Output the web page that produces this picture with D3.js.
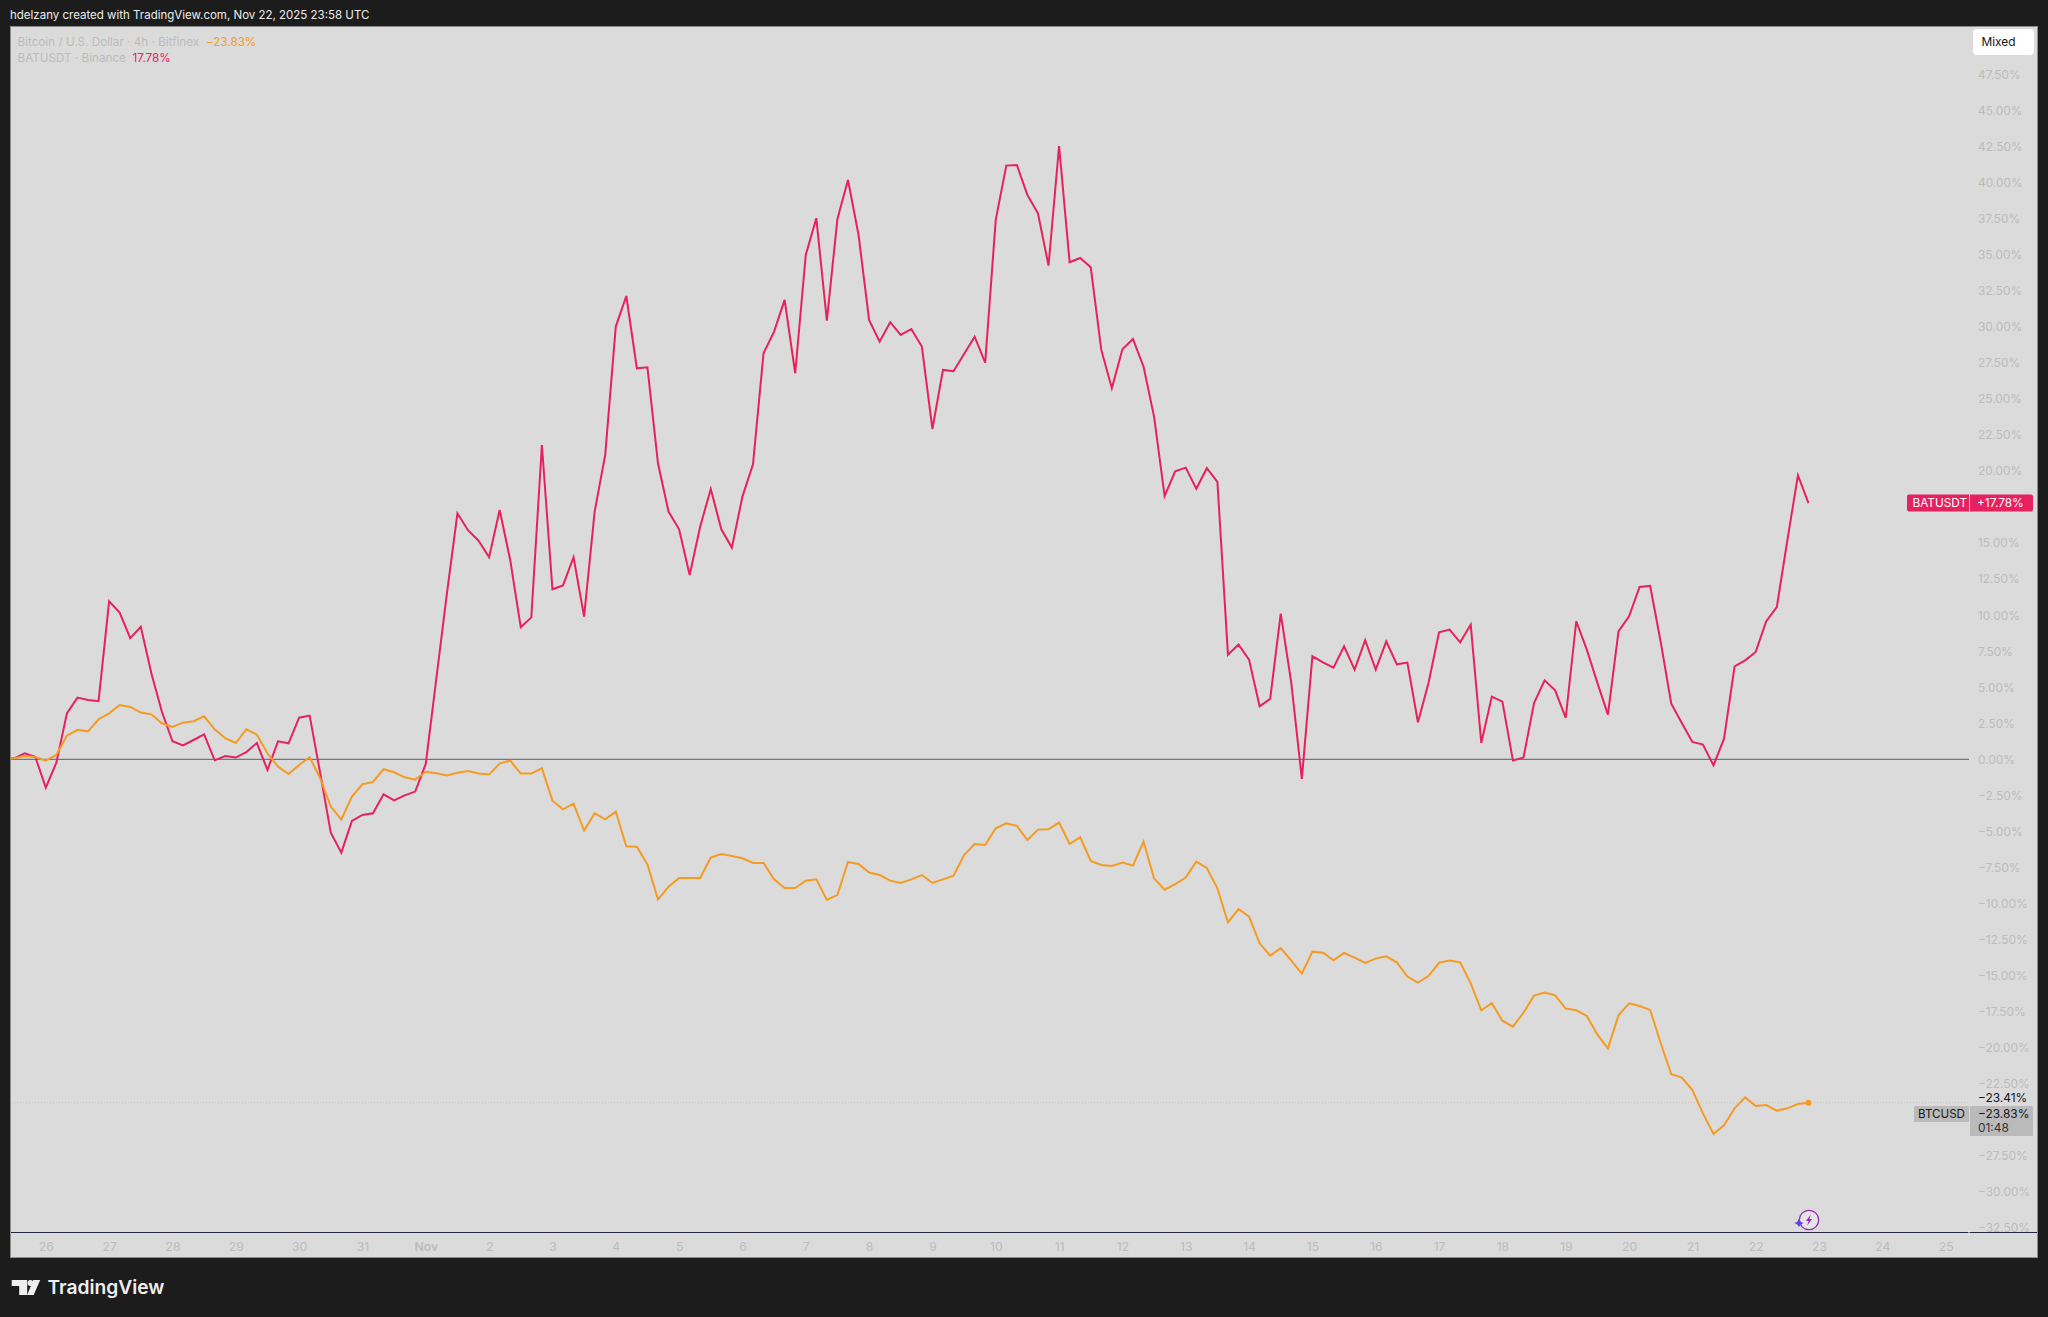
<!DOCTYPE html>
<html><head><meta charset="utf-8">
<style>html,body{margin:0;padding:0;background:#1c1c1c}svg{display:block}text{font-family:Inter,"Liberation Sans",sans-serif}</style>
<script src="https://cdn.jsdelivr.net/npm/d3@7/dist/d3.min.js"></script></head><body>
<script>
// first sample sits 4 bars (4h each) before 26 Oct 00:00 UTC
const firstBar = Date.UTC(2025, 9, 25, 8);
const batusdt = [0,0.07,0.42,0.18,-1.97,-0.23,3.19,4.28,4.12,4.03,10.96,10.18,8.4,9.2,5.97,3.3,1.25,0.97,1.34,1.73,-0.07,0.23,0.12,0.5,1.13,-0.74,1.25,1.11,2.89,3.03,-0.97,-5.09,-6.48,-4.28,-3.86,-3.75,-2.43,-2.85,-2.5,-2.24,-0.32,5.6,11.5,17.07,15.9,15.17,14.02,17.3,13.83,9.16,9.85,21.81,11.8,12.07,14.02,9.9,17.19,21.12,30.03,32.15,27.13,27.2,20.54,17.19,15.96,12.79,16.15,18.76,15.96,14.69,18.23,20.47,28.17,29.68,31.88,26.79,35.0,37.55,30.44,37.5,40.2,36.4,30.49,28.98,30.33,29.45,29.86,28.64,22.92,27.02,26.93,28.13,29.33,27.53,37.43,41.2,41.24,39.16,37.89,34.26,42.56,34.49,34.79,34.14,28.41,25.75,28.45,29.17,27.25,23.78,18.27,19.99,20.24,18.78,20.2,19.25,7.26,7.96,6.92,3.68,4.19,10.11,5.3,-1.36,7.15,6.73,6.36,7.84,6.22,8.26,6.22,8.19,6.59,6.71,2.57,5.3,8.81,9.0,8.12,9.35,1.13,4.35,4.0,-0.09,0.12,3.91,5.48,4.79,2.87,9.58,7.61,5.3,3.1,8.88,9.92,11.96,12.03,8.14,3.86,2.52,1.2,1.02,-0.42,1.43,6.45,6.87,7.45,9.58,10.57,15.2,19.71,17.78];
const btcusd = [0,0.07,0.23,0.16,-0.09,0.3,1.64,2.04,1.94,2.78,3.19,3.77,3.63,3.24,3.12,2.5,2.24,2.54,2.64,2.98,2.08,1.46,1.13,2.08,1.71,0.42,-0.51,-1.02,-0.39,0.14,-1.32,-3.28,-4.19,-2.59,-1.73,-1.57,-0.69,-0.9,-1.25,-1.41,-0.86,-0.97,-1.13,-0.93,-0.81,-0.99,-1.06,-0.3,-0.09,-0.99,-0.99,-0.62,-2.87,-3.47,-3.08,-4.95,-3.75,-4.16,-3.63,-6.04,-6.06,-7.29,-9.72,-8.84,-8.24,-8.24,-8.24,-6.82,-6.57,-6.71,-6.87,-7.19,-7.19,-8.33,-8.93,-8.93,-8.42,-8.33,-9.76,-9.41,-7.12,-7.26,-7.86,-8.03,-8.42,-8.58,-8.33,-8.03,-8.58,-8.33,-8.07,-6.64,-5.88,-5.94,-4.79,-4.44,-4.62,-5.6,-4.88,-4.86,-4.39,-5.88,-5.41,-7.05,-7.33,-7.4,-7.17,-7.38,-5.71,-8.26,-9.05,-8.67,-8.21,-7.1,-7.54,-8.95,-11.31,-10.39,-10.92,-12.77,-13.63,-13.1,-13.97,-14.87,-13.35,-13.42,-13.95,-13.44,-13.76,-14.13,-13.83,-13.67,-14.09,-15.08,-15.5,-15.04,-14.11,-13.97,-14.09,-15.55,-17.42,-16.93,-18.14,-18.55,-17.58,-16.4,-16.19,-16.38,-17.3,-17.42,-17.81,-19.11,-20.06,-17.76,-16.93,-17.12,-17.39,-19.7,-21.86,-22.09,-22.95,-24.57,-26.0,-25.4,-24.22,-23.46,-24.06,-23.99,-24.38,-24.22,-23.92,-23.83];
const dayLabels = ["26","27","28","29","30","31","Nov","2","3","4","5","6","7","8","9","10","11","12","13","14","15","16","17","18","19","20","21","22","23","24","25"];
const percentTicks = [47.5,45,42.5,40,37.5,35,32.5,30,27.5,25,22.5,20,15,12.5,10,7.5,5,2.5,0,-2.5,-5,-7.5,-10,-12.5,-15,-17.5,-20,-22.5,-27.5,-30,-32.5];
const lastBtc = -23.83, lastBat = 17.78, openMark = -23.41;

const W=2048,H=1317, pane={l:10,t:26,r:2038,b:1258}, axisX=1969, baseY=1232;
const pink="#e6215f", orange="#f59b22", tickGrey="#bcbcbc";
const day0=Date.UTC(2025,9,26), dayMs=864e5;
const barTime=i=>new Date(firstBar+i*4*36e5);
const x=d3.scaleUtc().domain([new Date(day0),new Date(day0+30*dayMs)]).range([45.8,1945.7]);
const y=d3.scaleLinear().domain([0,47.5]).range([759.3,74.8]);
const pct=v=>(v<0?"\u2212":"")+Math.abs(v).toFixed(2)+"%";

const svg=d3.select("body").append("svg").attr("width",W).attr("height",H).attr("viewBox",`0 0 ${W} ${H}`);
svg.append("rect").attr("width",W).attr("height",H).attr("fill","#1c1c1c");
svg.append("rect").attr("x",pane.l+.5).attr("y",pane.t+.5).attr("width",pane.r-pane.l-1).attr("height",pane.b-pane.t-1).attr("fill","#dbdbdb").attr("stroke","#8c8c8c");
svg.append("defs").append("clipPath").attr("id","c").append("rect").attr("x",pane.l+1).attr("y",pane.t).attr("width",axisX-pane.l).attr("height",baseY-pane.t);

svg.append("text").attr("x",10).attr("y",19.3).attr("fill","#ececec").attr("font-size",11.5).text("hdelzany created with TradingView.com, Nov 22, 2025 23:58 UTC");

// axes
const xAxis=d3.axisBottom(x).tickValues(dayLabels.map((d,i)=>new Date(day0+i*dayMs))).tickFormat((d,i)=>dayLabels[i]).tickSize(0).tickPadding(0);
const gx=svg.append("g").attr("transform","translate(0,1250.5)").call(xAxis);
gx.select(".domain").remove();
gx.selectAll("text").attr("y",0).attr("dy",0).attr("fill",tickGrey).attr("font-size",12.2).attr("font-weight",(d,i)=>dayLabels[i]==="Nov"?600:400).style("font-family","Inter");

const yAxis=d3.axisRight(y).tickValues(percentTicks).tickFormat(pct).tickSize(0).tickPadding(0);
const gy=svg.append("g").attr("transform","translate(1978,0)").call(yAxis);
gy.select(".domain").remove();
gy.selectAll("text").attr("x",0).attr("fill",tickGrey).attr("font-size",11.9).style("font-family","Inter");

// reference lines
svg.append("line").attr("x1",pane.l+1).attr("x2",axisX).attr("y1",y(0)).attr("y2",y(0)).attr("stroke","#72748a").attr("stroke-width",1.3);
svg.append("line").attr("x1",pane.l+1).attr("x2",axisX).attr("y1",y(lastBtc)).attr("y2",y(lastBtc)).attr("stroke","#cdc6b8").attr("stroke-dasharray","1 2");
svg.append("line").attr("x1",pane.l+1).attr("x2",pane.r-1).attr("y1",baseY+.5).attr("y2",baseY+.5).attr("stroke","#23273f").attr("stroke-width",1.2);
svg.append("line").attr("x1",axisX).attr("x2",axisX).attr("y1",baseY-1).attr("y2",baseY+3).attr("stroke","#f2f2f2");

// series
const line=d3.line().x((d,i)=>x(barTime(i))).y(d=>y(d));
const plot=svg.append("g").attr("clip-path","url(#c)");
plot.append("path").datum(batusdt).attr("d",line).attr("fill","none").attr("stroke",pink).attr("stroke-width",2).attr("stroke-linejoin","miter");
plot.append("path").datum(btcusd).attr("d",line).attr("fill","none").attr("stroke",orange).attr("stroke-width",2);
plot.append("circle").attr("cx",x(barTime(btcusd.length-1))).attr("cy",y(lastBtc)).attr("r",3).attr("fill",orange);

// legend
const leg=(yy,parts)=>{const t=svg.append("text").attr("x",17.5).attr("y",yy).attr("font-size",11.7);parts.forEach(([s,c,dx])=>t.append("tspan").attr("fill",c).attr("dx",dx||0).text(s));};
leg(45.5,[["Bitcoin / U.S. Dollar · 4h · Bitfinex",tickGrey],[pct(lastBtc),orange,7]]);
leg(62,[["BATUSDT · Binance",tickGrey],[lastBat.toFixed(2)+"%",pink,7]]);

// Mixed button
svg.append("rect").attr("x",1973).attr("y",29).attr("width",61).attr("height",26).attr("rx",4).attr("fill","#fff");
svg.append("text").attr("x",1981.5).attr("y",46.3).attr("font-size",11.9).attr("fill","#131722").text("Mixed");

// last-value labels
const by=y(lastBat);
svg.append("rect").attr("x",1907).attr("y",by-8.7).attr("width",126).attr("height",17).attr("rx",2).attr("fill",pink);
svg.append("line").attr("x1",1969.5).attr("x2",1969.5).attr("y1",by-8.7).attr("y2",by+8.3).attr("stroke","#f6c3d4");
svg.append("text").attr("x",1912.5).attr("y",by+4.3).attr("font-size",11.8).attr("fill","#fff").text("BATUSDT");
svg.append("text").attr("x",1977).attr("y",by+4.3).attr("font-size",11.9).attr("fill","#fff").text("+"+lastBat.toFixed(2)+"%");
svg.append("text").attr("x",1978).attr("y",y(openMark)+5.3).attr("font-size",11.9).attr("fill","#131722").text(pct(openMark));
svg.append("rect").attr("x",1914).attr("y",1106).attr("width",55).attr("height",16).attr("rx",1).attr("fill","#bababa");
svg.append("rect").attr("x",1970).attr("y",1106).attr("width",63).attr("height",30).attr("rx",1).attr("fill","#bababa");
svg.append("text").attr("x",1918).attr("y",1118.2).attr("font-size",11.6).attr("fill","#131722").text("BTCUSD");
svg.append("text").attr("x",1978).attr("y",1118.2).attr("font-size",11.9).attr("fill","#131722").text(pct(lastBtc));
svg.append("text").attr("x",1978).attr("y",1132).attr("font-size",11.9).attr("fill","#333").text("01:48");

// sparkle badge
const b=svg.append("g").attr("transform","translate(1809,1220)");
b.append("circle").attr("r",9.7).attr("fill","#f2f2f2").attr("fill-opacity",.45).attr("stroke","#9c27b0").attr("stroke-width",1.3);
b.append("path").attr("d","M1.8,-5.6 L-3,1 L-0.4,1 L-1.8,5.6 L3,-1 L0.4,-1 Z").attr("fill","#9c27b0");
b.append("path").attr("d","M-10,-1 Q-9,2 -5.5,3 Q-9,4 -10,7 Q-11,4 -14.5,3 Q-11,2 -10,-1 Z").attr("fill","#5b3df5");

// footer logo
const f=svg.append("g").attr("transform","translate(11.7,1280)");
f.append("path").attr("d","M0,0 H15.5 V15 H7.5 V6 H0 Z M21.5,0 H28.5 L22,15 H15.5 Z").attr("fill","#efefef");
f.append("circle").attr("cx",18.7).attr("cy",3).attr("r",2.9).attr("fill","#efefef");
svg.append("text").attr("x",47.5).attr("y",1294).attr("font-size",19.2).attr("font-weight",600).attr("fill","#efefef").text("TradingView");
</script></body></html>
